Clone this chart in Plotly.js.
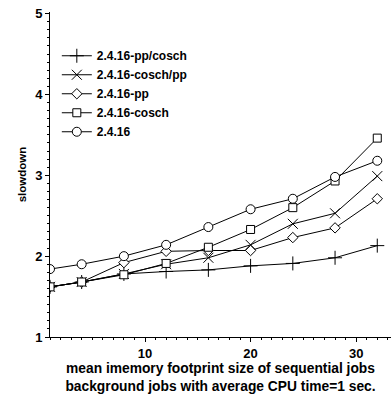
<!DOCTYPE html>
<html><head><meta charset="utf-8">
<script src="https://cdn.plot.ly/plotly-3.0.1.min.js"></script>
<style>html,body{margin:0;padding:0;background:#fff;}#chart{width:391px;height:396px;}</style>
</head><body><div id="chart"></div>
<script>
const memSize = [1, 4, 8, 12, 16, 20, 24, 28, 32];
const ppCosch = [1.62, 1.68, 1.78, 1.81, 1.83, 1.88, 1.91, 1.98, 2.13];
const coschPp = [1.62, 1.68, 1.78, 1.90, 1.98, 2.14, 2.40, 2.53, 2.99];
const pp      = [1.62, 1.68, 1.92, 2.06, 2.07, 2.07, 2.23, 2.35, 2.71];
const cosch   = [1.62, 1.68, 1.77, 1.91, 2.11, 2.33, 2.60, 2.93, 3.46];
const base    = [1.84, 1.90, 2.00, 2.14, 2.36, 2.58, 2.71, 2.98, 3.18];
const names = ['2.4.16-pp/cosch', '2.4.16-cosch/pp', '2.4.16-pp', '2.4.16-cosch', '2.4.16'];
const series = [ppCosch, coschPp, pp, cosch, base];
const symbols = ['cross-thin-open', 'x-thin-open', 'diamond', 'square', 'circle'];
const sizes = [10, 10, 8, 8, 9];

const traces = series.map((ys, i) => ({
  x: memSize, y: ys, name: '<b>' + names[i] + '</b>', type: 'scatter', mode: 'lines+markers',
  line: {color: 'black', width: 1},
  marker: {symbol: symbols[i], size: sizes[i],
           color: i >= 2 ? 'white' : 'black', line: {color: 'black', width: 1}}
}));

const fam = 'Liberation Sans, Arial, sans-serif';
const layout = {
  width: 391, height: 396,
  margin: {l: 50, r: 0, t: 12, b: 59},
  paper_bgcolor: 'white', plot_bgcolor: 'white',
  font: {family: fam, color: 'black', size: 12},
  showlegend: true,
  legend: {x: 0.02, y: 0.91, xanchor: 'left', yanchor: 'top', bgcolor: 'rgba(0,0,0,0)',
           font: {family: fam, size: 12, color: 'black'},
           tracegroupgap: 0, itemwidth: 30},
  xaxis: {range: [1, 33.3], showline: true, linecolor: 'black', linewidth: 1,
          ticks: 'outside', ticklen: 4, tickcolor: 'black', tick0: 0, dtick: 10,
          showgrid: false, zeroline: false,
          tickfont: {family: fam, size: 13, weight: 700, color: 'black'},
          minor: {dtick: 1, ticks: 'outside', ticklen: 2, tickcolor: 'black', showgrid: false},
          title: {text: '<b>mean imemory footprint size of sequential jobs</b><br><b>background jobs with average CPU time=1 sec.</b>',
                  font: {family: fam, size: 13.8, color: 'black'}, standoff: 2}},
  yaxis: {range: [1, 5.02], showline: true, linecolor: 'black', linewidth: 1,
          ticks: 'outside', ticklen: 4, tickcolor: 'black', tick0: 1, dtick: 1,
          showgrid: false, zeroline: false,
          tickfont: {family: fam, size: 13, weight: 700, color: 'black'},
          minor: {dtick: 0.1, ticks: 'outside', ticklen: 2, tickcolor: 'black', showgrid: false},
          title: {text: '<b>slowdown</b>', font: {family: fam, size: 11.5, color: 'black'}, standoff: 6}}
};
Plotly.newPlot('chart', traces, layout, {displayModeBar: false, staticPlot: true});
</script></body></html>
